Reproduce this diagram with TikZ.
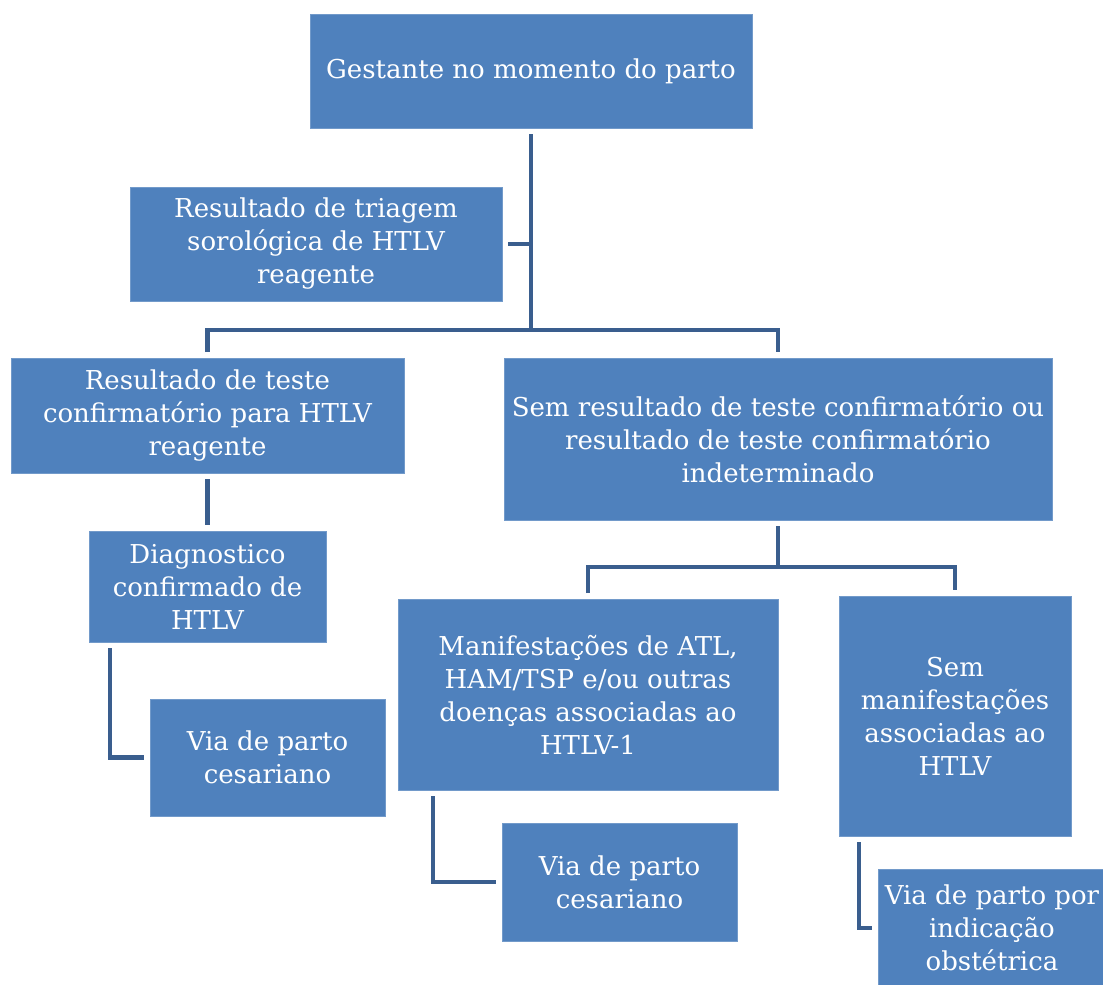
\documentclass[tikz,border=0pt]{standalone}
\usepackage{fontspec}
\setmainfont{DejaVu Serif}
\definecolor{azulcaixa}{HTML}{4F81BD}
\definecolor{azullinha}{HTML}{3A5E8E}
\begin{document}
\begin{tikzpicture}[x=1pt,y=-1pt,
caixa/.style={fill=azulcaixa,draw=azulcaixa!80!white,line width=1pt,text=white,align=center,inner sep=0pt,outer sep=6pt,font=\fontsize{26}{33}\selectfont},
linha/.style={draw=azullinha,line width=4.5pt}]

\useasboundingbox[fill=white] (0,0) rectangle (1103,985);

\node[caixa,minimum width=442pt,minimum height=114pt](gest) at (531,71) {Gestante no momento do parto};
\node[caixa,minimum width=372pt,minimum height=114pt](triag) at (316,244) {Resultado de triagem\\sorológica de HTLV\\reagente};
\node[caixa,minimum width=393pt,minimum height=115pt](confirm) at (207.5,415.5) {Resultado de teste\\confirmatório para HTLV\\reagente};
\node[caixa,minimum width=237pt,minimum height=111pt](diag) at (207.5,586.5) {Diagnostico\\confirmado de\\HTLV};
\node[caixa,minimum width=235pt,minimum height=117pt](ces1) at (267.5,757.5) {Via de parto\\cesariano};
\node[caixa,minimum width=548pt,minimum height=162pt](semres) at (778,439) {Sem resultado de teste confirmatório ou\\resultado de teste confirmatório\\indeterminado};
\node[caixa,minimum width=380pt,minimum height=191pt](manif) at (588,694.5) {Manifestações de ATL,\\HAM/TSP e/ou outras\\doenças associadas ao\\HTLV-1};
\node[caixa,minimum width=235pt,minimum height=118pt](ces2) at (619.5,882) {Via de parto\\cesariano};
\node[caixa,minimum width=232pt,minimum height=240pt](semmanif) at (955,716) {Sem\\manifestações\\associadas ao\\HTLV};
\node[caixa,minimum width=228pt,minimum height=118pt](obst) at (992,928) {Via de parto por\\indicação\\obstétrica};

\coordinate (nivel1) at (531,330);
\coordinate (nivel2) at (778,567);

\draw[linha] (gest.south) -- (nivel1);
\draw[linha] (triag.east) -- (triag.east -| nivel1);
\draw[linha] (confirm.north) |- (nivel1) -| (semres.north);
\draw[linha] (confirm.south) -- (diag.north);
\draw[linha] ([xshift=-97.5pt]diag.south) |- (ces1.west);

\draw[linha] (semres.south) -- (nivel2);
\draw[linha] (manif.north) |- (nivel2) -| (semmanif.north);
\draw[linha] ([xshift=-155pt]manif.south) |- (ces2.west);
\draw[linha] ([xshift=-96pt]semmanif.south) |- (obst.west);

\end{tikzpicture}
\end{document}
